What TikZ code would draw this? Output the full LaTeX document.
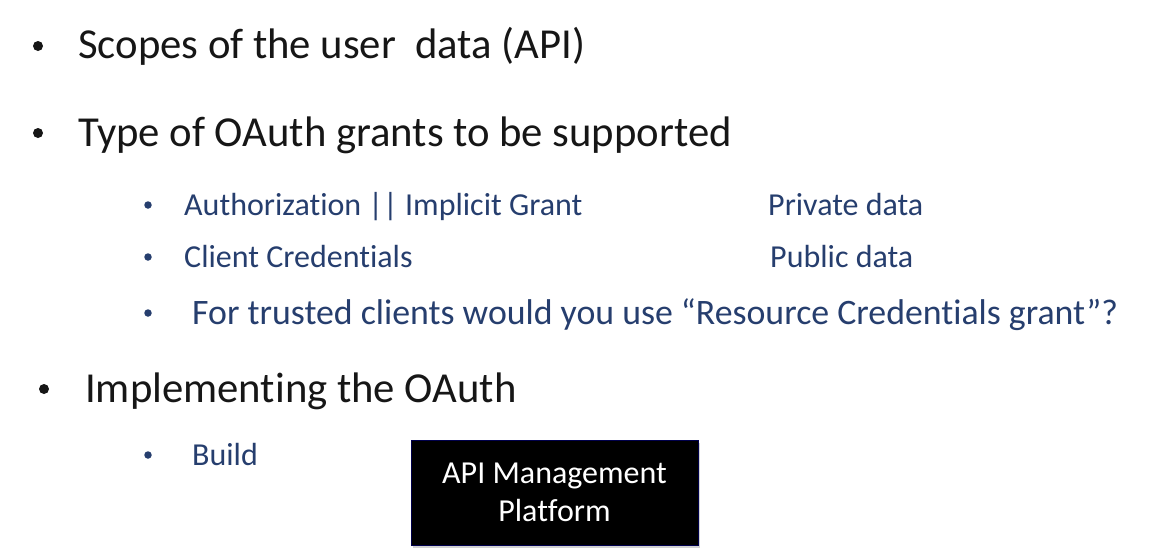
\documentclass[tikz,border=0pt]{standalone}
\usepackage{fontspec}
\setmainfont[Ligatures=NoCommon]{Carlito}
\usetikzlibrary{shadows}
\definecolor{itemblue}{RGB}{38,62,110}
\definecolor{topgray}{RGB}{22,22,22}

\begin{document}
\begin{tikzpicture}[x=1pt,y=-1pt,
  toptext/.style={anchor=base west, inner sep=0pt, text=topgray, font=\fontsize{42.7}{44}\selectfont},
  subtext/.style={anchor=base west, inner sep=0pt, text=itemblue, font=\fontsize{32}{34}\selectfont},
  topdot/.style={circle, fill=topgray, minimum size=10pt, inner sep=0pt},
  subdot/.style={circle, fill=itemblue, minimum size=7.5pt, inner sep=0pt},
  platform/.style={fill=black, draw=black!70!blue, minimum width=287pt, minimum height=105pt, text=white, align=center, font=\fontsize{32}{38}\selectfont, drop shadow={shadow xshift=2pt, shadow yshift=-3pt, opacity=0.35}}]
  \useasboundingbox[fill=white] (0,0) rectangle (1151,558);
  % first level
  \node[topdot] (dotscopes) at (38,46) {};
  \node[toptext] (scopes) at (78,58) {Scopes of the user~ data (API)};
  \node[topdot] (dotgrants) at (38,133) {};
  \node[toptext] (grants) at (78,146) {Type of OAuth grants to be supported};
  \node[topdot] (dotimpl) at (44,389) {};
  \node[toptext] (impl) at (85,402) {Implementing the OAuth};
  % second level
  \node[subdot] (dotauth) at (148,205) {};
  \node[subtext] (auth) at (184,215) {Authorization || Implicit Grant};
  \node[subtext] (private) at (768,215) {Private data};
  \node[subdot] (dotclient) at (148,257) {};
  \node[subtext] (client) at (184,267) {Client Credentials};
  \node[subtext] (public) at (770,267) {Public data};
  \node[subdot] (dottrusted) at (148,313) {};
  \node[subtext, font=\fontsize{35.8}{38}\selectfont] (trusted) at (192,324) {For trusted clients would you use “Resource Credentials grant”?};
  \node[subdot] (dotbuild) at (148,455) {};
  \node[subtext] (build) at (192,465) {Build};
  % box
  \node[platform] (apim) at (554.5,492.5) {API Management\\Platform};
\end{tikzpicture}
\end{document}
